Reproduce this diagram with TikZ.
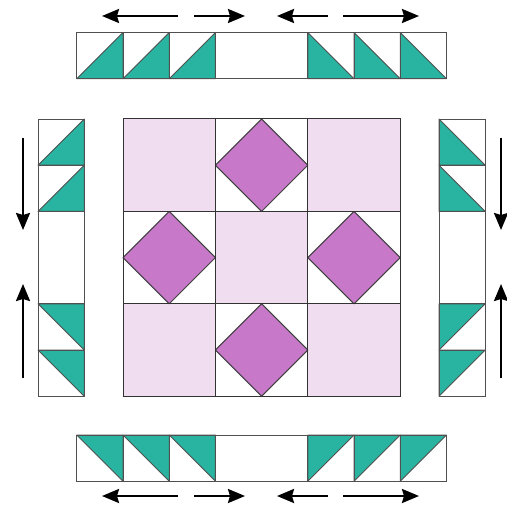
\documentclass[tikz,border=0pt]{standalone}
\usetikzlibrary{arrows.meta}
\definecolor{teal1}{RGB}{40,180,160}
\definecolor{pinklt}{RGB}{240,222,240}
\definecolor{plum}{RGB}{199,120,200}
\definecolor{edgegray}{RGB}{80,80,80}
\tikzset{
  tri/.style={fill=teal1, draw=edgegray, line width=0.9pt, line join=round},
  cellline/.style={draw=edgegray, line width=0.9pt},
  gridline/.style={draw=black!80, line width=1pt},
  diam/.style={fill=plum, draw=black!75, line width=1pt, line join=round},
  dirarrow/.style={line width=2.3pt, -{Stealth[length=17pt,width=14pt,inset=2pt]}}
}
\begin{document}
\begin{tikzpicture}[x=1pt,y=-1pt]
\useasboundingbox (0,0) rectangle (506,510);
\def\c{46.2}
% ---------- top strip ----------
\def\sx{76.8}
\def\ty{32.5}
\def\by{78.7}
\foreach \i in {0,1,2} {
  \pgfmathsetmacro{\xa}{\sx+\i*\c}\pgfmathsetmacro{\xb}{\xa+\c}
  \filldraw[tri] (\xa,\by) -- (\xb,\by) -- (\xb,\ty) -- cycle;
}
\foreach \i in {5,6,7} {
  \pgfmathsetmacro{\xa}{\sx+\i*\c}\pgfmathsetmacro{\xb}{\xa+\c}
  \filldraw[tri] (\xa,\ty) -- (\xa,\by) -- (\xb,\by) -- cycle;
}
\draw[cellline] (\sx,\ty) rectangle ({\sx+8*\c},\by);
\foreach \i in {1,2,3,5,6,7} \draw[cellline] ({\sx+\i*\c},\ty) -- ({\sx+\i*\c},\by);
% ---------- bottom strip ----------
\def\tyb{435}
\def\byb{481.2}
\foreach \i in {0,1,2} {
  \pgfmathsetmacro{\xa}{\sx+\i*\c}\pgfmathsetmacro{\xb}{\xa+\c}
  \filldraw[tri] (\xa,\tyb) -- (\xb,\tyb) -- (\xb,\byb) -- cycle;
}
\foreach \i in {5,6,7} {
  \pgfmathsetmacro{\xa}{\sx+\i*\c}\pgfmathsetmacro{\xb}{\xa+\c}
  \filldraw[tri] (\xa,\tyb) -- (\xb,\tyb) -- (\xa,\byb) -- cycle;
}
\draw[cellline] (\sx,\tyb) rectangle ({\sx+8*\c},\byb);
\foreach \i in {1,2,3,5,6,7} \draw[cellline] ({\sx+\i*\c},\tyb) -- ({\sx+\i*\c},\byb);
% ---------- left strip ----------
\def\sy{119}
\def\lx{38}
\def\rx{84.2}
\foreach \j in {0,1} {
  \pgfmathsetmacro{\ya}{\sy+\j*\c}\pgfmathsetmacro{\yb}{\ya+\c}
  \filldraw[tri] (\lx,\yb) -- (\rx,\yb) -- (\rx,\ya) -- cycle;
}
\foreach \j in {4,5} {
  \pgfmathsetmacro{\ya}{\sy+\j*\c}\pgfmathsetmacro{\yb}{\ya+\c}
  \filldraw[tri] (\lx,\ya) -- (\rx,\ya) -- (\rx,\yb) -- cycle;
}
\draw[cellline] (\lx,\sy) rectangle (\rx,{\sy+6*\c});
\foreach \j in {1,2,4,5} \draw[cellline] (\lx,{\sy+\j*\c}) -- (\rx,{\sy+\j*\c});
% ---------- right strip ----------
\def\lxr{439}
\def\rxr{485.2}
\foreach \j in {0,1} {
  \pgfmathsetmacro{\ya}{\sy+\j*\c}\pgfmathsetmacro{\yb}{\ya+\c}
  \filldraw[tri] (\lxr,\ya) -- (\lxr,\yb) -- (\rxr,\yb) -- cycle;
}
\foreach \j in {4,5} {
  \pgfmathsetmacro{\ya}{\sy+\j*\c}\pgfmathsetmacro{\yb}{\ya+\c}
  \filldraw[tri] (\lxr,\ya) -- (\rxr,\ya) -- (\lxr,\yb) -- cycle;
}
\draw[cellline] (\lxr,\sy) rectangle (\rxr,{\sy+6*\c});
\foreach \j in {1,2,4,5} \draw[cellline] (\lxr,{\sy+\j*\c}) -- (\rxr,{\sy+\j*\c});
% ---------- centre block ----------
\def\cx{123}
\def\C{92.4}
\foreach \a/\b in {0/0,2/0,1/1,0/2,2/2}
  \fill[pinklt] ({\cx+\a*\C},{\sy+\b*\C}) rectangle ({\cx+(\a+1)*\C},{\sy+(\b+1)*\C});
\foreach \a/\b in {1/0,0/1,2/1,1/2} {
  \pgfmathsetmacro{\mx}{\cx+(\a+0.5)*\C}\pgfmathsetmacro{\my}{\sy+(\b+0.5)*\C}
  \filldraw[diam] (\mx,{\my-\C/2}) -- ({\mx+\C/2},\my) -- (\mx,{\my+\C/2}) -- ({\mx-\C/2},\my) -- cycle;
}
\draw[gridline] (\cx,\sy) rectangle ({\cx+3*\C},{\sy+3*\C});
\foreach \k in {1,2} {
  \draw[gridline] ({\cx+\k*\C},\sy) -- ({\cx+\k*\C},{\sy+3*\C});
  \draw[gridline] (\cx,{\sy+\k*\C}) -- ({\cx+3*\C},{\sy+\k*\C});
}
% ---------- arrows ----------
\coordinate (t1a) at (178,16); \coordinate (t1b) at (102,16);
\coordinate (t2a) at (194,16); \coordinate (t2b) at (245,16);
\coordinate (t3a) at (328,16); \coordinate (t3b) at (277,16);
\coordinate (t4a) at (343,16); \coordinate (t4b) at (419,16);
\coordinate (b1a) at (178,496); \coordinate (b1b) at (102,496);
\coordinate (b2a) at (194,496); \coordinate (b2b) at (245,496);
\coordinate (b3a) at (328,496); \coordinate (b3b) at (277,496);
\coordinate (b4a) at (343,496); \coordinate (b4b) at (419,496);
\coordinate (l1a) at (23,138); \coordinate (l1b) at (23,230);
\coordinate (l2a) at (23,378); \coordinate (l2b) at (23,284);
\coordinate (r1a) at (501,138); \coordinate (r1b) at (501,230);
\coordinate (r2a) at (501,378); \coordinate (r2b) at (501,284);
\foreach \p in {t1,t2,t3,t4,b1,b2,b3,b4,l1,l2,r1,r2}
  \draw[dirarrow] (\p a) -- (\p b);
\end{tikzpicture}
\end{document}
